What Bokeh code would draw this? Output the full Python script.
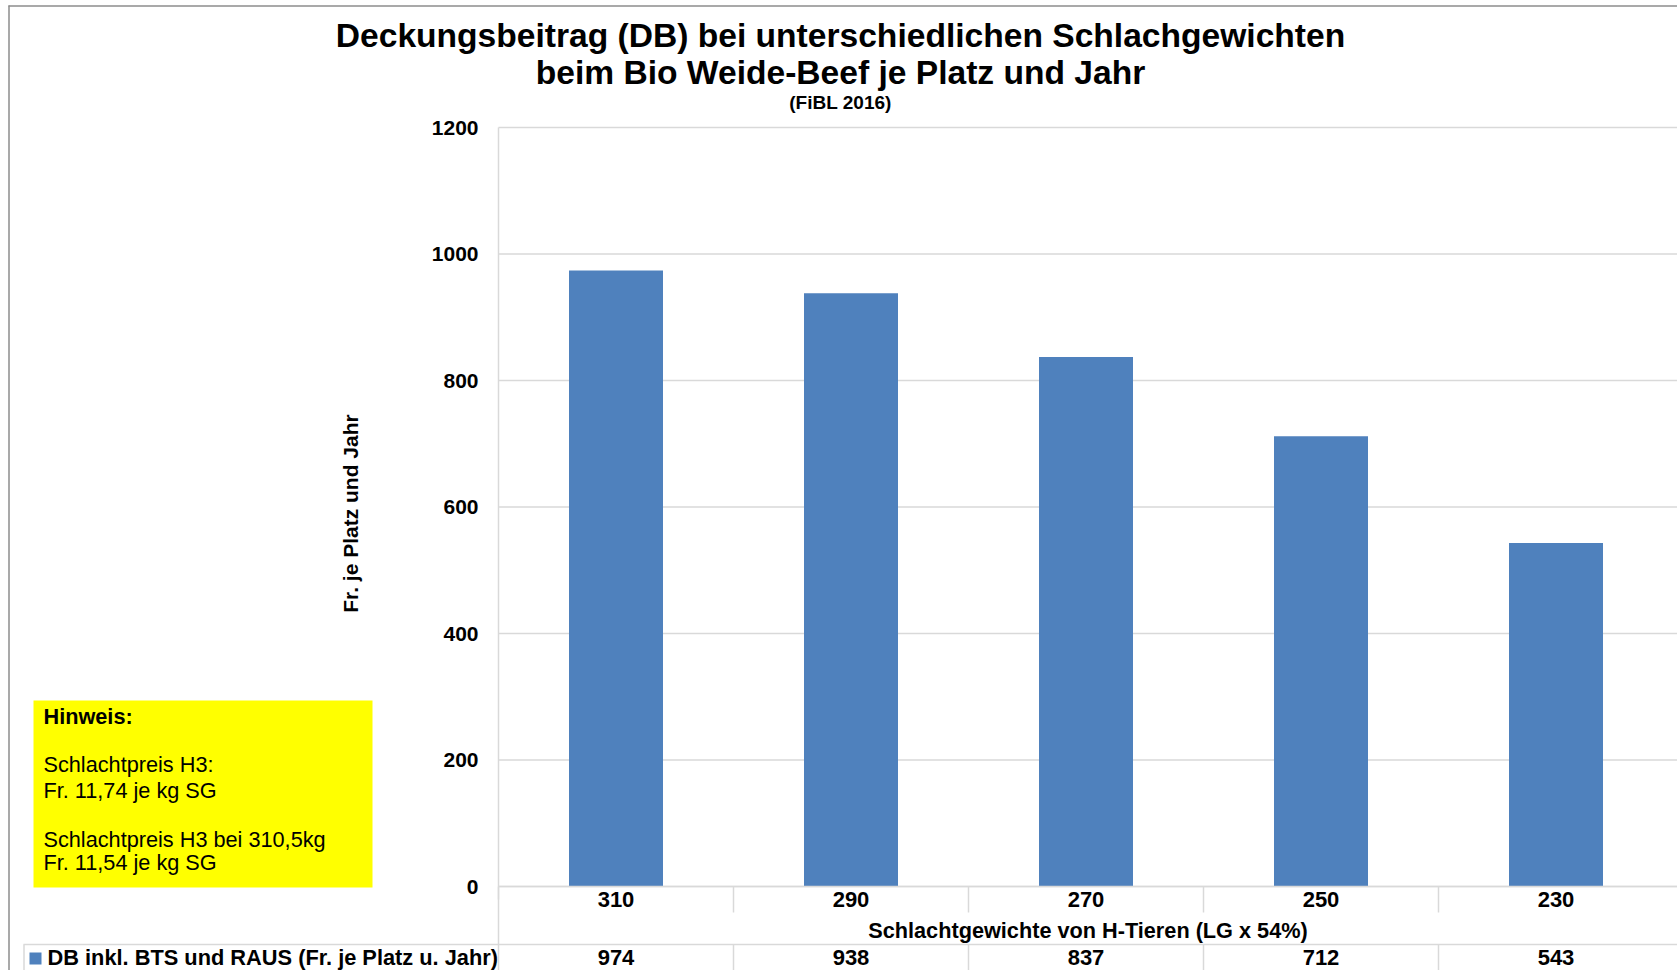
from bokeh.plotting import figure
from bokeh.models import Range1d, LinearAxis, FixedTicker
from bokeh.core.properties import value
from bokeh.embed import file_html
from bokeh.resources import INLINE

# ---- data ----
categories = ["310", "290", "270", "250", "230"]
values = [974, 938, 837, 712, 543]
y_ticks = [0, 200, 400, 600, 800, 1000, 1200]
title_lines = ["Deckungsbeitrag (DB) bei unterschiedlichen Schlachgewichten",
               "beim Bio Weide-Beef je Platz und Jahr"]
subtitle = "(FiBL 2016)"
y_title = "Fr. je Platz und Jahr"
x_title = "Schlachtgewichte von H-Tieren (LG x 54%)"
series_name = "DB inkl. BTS und RAUS (Fr. je Platz u. Jahr)"
note_lines = ["Hinweis:", "Schlachtpreis H3:", "Fr. 11,74 je kg SG",
              "Schlachtpreis H3 bei 310,5kg", "Fr. 11,54 je kg SG"]

FONT = "Liberation Sans"
BAR = "#4f81bd"
GRID = "#d9d9d9"
BORDER = "#8c8c8c"

# ---- layout (pixels) ----
W, H = 1677, 970
PL, PT, PB = 498, 127, 886          # plot area left / top / bottom
CW = 235.0                          # width of one category slot
UY = (PB - PT) / 1200.0             # pixels per value unit

x_range = Range1d(-PL / CW, (W - PL) / CW)
y_range = Range1d(-(H - PB) / UY, 1200 + PT / UY)

p = figure(width=W, height=H, x_range=x_range, y_range=y_range,
           x_axis_type=None, y_axis_type=None, title=None,
           output_backend="svg", toolbar_location=None,
           min_border=0, min_border_left=0, min_border_right=0,
           min_border_top=0, min_border_bottom=0)
p.extra_x_ranges = {"px": Range1d(0, W)}
p.extra_y_ranges = {"px": Range1d(H, 0)}
p.background_fill_color = "white"
p.border_fill_color = "white"
p.outline_line_color = None
for g in p.grid:
    g.visible = False

positions = [i + 0.5 for i in range(len(categories))]

# gridlines through the value scale
p.segment(x0=[0] * len(y_ticks), x1=[x_range.end] * len(y_ticks), y0=y_ticks, y1=y_ticks,
          line_color=GRID, line_width=1.5)

# bars
p.vbar(x=positions, top=values, bottom=0, width=0.4, fill_color=BAR, line_color=None)

# y axis
yax = LinearAxis(ticker=FixedTicker(ticks=y_ticks), fixed_location=0,
                 bounds=(-20.5, 1200))
yax.axis_line_color = GRID
yax.axis_line_width = 1.5
yax.major_tick_line_color = None
yax.minor_tick_line_color = None
yax.major_tick_out = 0
yax.major_tick_in = 0
yax.major_label_standoff = 20
yax.major_label_text_font = FONT
yax.major_label_text_font_style = "bold"
yax.major_label_text_font_size = "21px"
yax.major_label_text_color = "black"
yax.axis_label = y_title
yax.axis_label_text_font = FONT
yax.axis_label_text_font_style = "bold"
yax.axis_label_text_font_size = "21px"
yax.axis_label_text_color = "black"
yax.axis_label_standoff = 67
p.add_layout(yax, "left")

# y-axis line continues down through the data table
p.segment(x0=[0], x1=[0], y0=[0], y1=[y_range.start], line_color=GRID, line_width=1.5)

# x axis
xax = LinearAxis(ticker=FixedTicker(ticks=positions), fixed_location=0,
                 bounds=(0, x_range.end),
                 major_label_overrides={pos: c for pos, c in zip(positions, categories)})
xax.axis_line_color = GRID
xax.axis_line_width = 1.5
xax.major_tick_line_color = None
xax.minor_tick_line_color = None
xax.major_tick_out = 0
xax.major_tick_in = 0
xax.major_label_standoff = 5
xax.major_label_text_font = FONT
xax.major_label_text_font_style = "bold"
xax.major_label_text_font_size = "22px"
xax.major_label_text_color = "black"
xax.axis_label = x_title
xax.axis_label_text_font = FONT
xax.axis_label_text_font_style = "bold"
xax.axis_label_text_font_size = "21.7px"
xax.axis_label_text_color = "black"
xax.axis_label_standoff = 8
p.add_layout(xax, "below")

PX = dict(x_range_name="px", y_range_name="px")

# outer chart border
p.segment(x0=[8.5, 8], x1=[8.5, W], y0=[5, 5.5], y1=[H, 5.5], line_color=BORDER,
          line_width=1.5, **PX)

# data-table grid
seps = list(range(1, len(categories)))
p.segment(x0=seps, x1=seps, y0=[PB] * len(seps), y1=[912] * len(seps),
          line_color=GRID, line_width=1.5, y_range_name="px")
p.segment(x0=seps, x1=seps, y0=[944] * len(seps), y1=[H] * len(seps),
          line_color=GRID, line_width=1.5, y_range_name="px")
p.segment(x0=[23, 23.5], x1=[W, 23.5], y0=[944, 944], y1=[944, H],
          line_color=GRID, line_width=1.5, **PX)

# yellow note box
p.quad(left=[33], right=[372], top=[700], bottom=[887], fill_color="#ffff00",
       line_color=None, **PX)
note_mid = [716, 763.5, 789.5, 838.5, 862]
p.text(x=[43], y=[note_mid[0]], text=[note_lines[0]], text_font=value(FONT),
       text_font_style="bold", text_font_size="21.7px", text_color="black",
       text_baseline="middle", **PX)
p.text(x=[43] * 4, y=note_mid[1:], text=note_lines[1:], text_font=value(FONT),
       text_font_style="normal", text_font_size="21.7px", text_color="black",
       text_baseline="middle", **PX)

# titles
p.text(x=[840, 840], y=[35, 71.5], text=title_lines, text_font=value(FONT),
       text_font_style="bold", text_font_size="33.6px", text_color="black",
       text_align="center", text_baseline="middle", **PX)
p.text(x=[840], y=[102], text=[subtitle], text_font=value(FONT),
       text_font_style="bold", text_font_size="19px", text_color="black",
       text_align="center", text_baseline="middle", **PX)

# data table row: legend key + values
p.quad(left=[29], right=[41], top=[952], bottom=[964], fill_color=BAR,
       line_color=None, **PX)
p.text(x=[47], y=[957], text=[series_name], text_font=value(FONT),
       text_font_style="bold", text_font_size="21.8px", text_color="black",
       text_baseline="middle", **PX)
p.text(x=positions, y=[957] * len(values), text=[str(v) for v in values],
       text_font=value(FONT), text_font_style="bold", text_font_size="22px",
       text_color="black", text_align="center", text_baseline="middle",
       y_range_name="px")

open("out.html", "w").write(file_html(p, INLINE))
